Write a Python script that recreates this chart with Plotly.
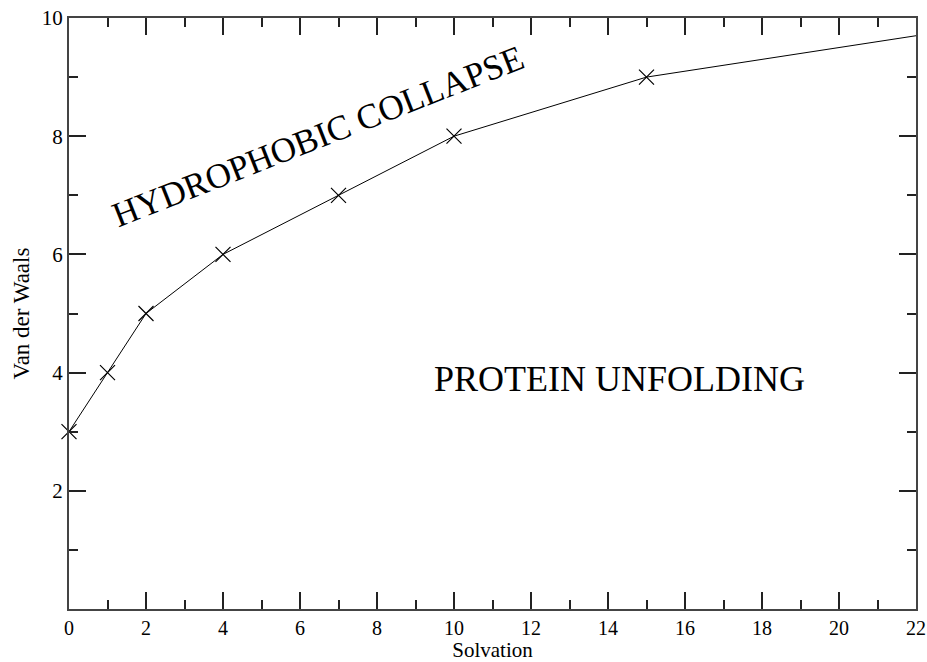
import plotly.graph_objects as go

solvation = [0, 1, 2, 4, 7, 10, 15]
vdw = [3, 4, 5, 6, 7, 8, 9]
line_end_x = [15, 22]
line_end_y = [9, 9.7]

x_ticks = list(range(0, 23, 2))
y_ticks = [2, 4, 6, 8, 10]

font_family = "Liberation Serif, Times New Roman, serif"

fig = go.Figure()
fig.add_trace(go.Scatter(
    x=solvation, y=vdw, mode="lines+markers",
    line=dict(color="black", width=1),
    marker=dict(symbol="x-thin-open", size=15, color="black",
                line=dict(color="black", width=1.2)),
    cliponaxis=False, showlegend=False))
fig.add_trace(go.Scatter(
    x=line_end_x, y=line_end_y, mode="lines",
    line=dict(color="black", width=1), showlegend=False))

axis_common = dict(
    showgrid=False, zeroline=False, showline=True, linecolor="#444",
    linewidth=2, mirror="ticks", ticks="inside", ticklen=17, tickwidth=1.5,
    tickcolor="#222", automargin=False,
    tickfont=dict(family=font_family, size=21, color="black"),
    minor=dict(ticks="inside", ticklen=9, tickwidth=1.5, tickcolor="#222", dtick=1),
)

fig.update_xaxes(
    range=[0, 22], tickvals=x_ticks,
    tickfont=dict(family=font_family, size=20, color="black"),
    title=dict(text="Solvation", font=dict(family=font_family, size=21, color="black"),
               standoff=8),
    **{k: v for k, v in axis_common.items() if k != "tickfont"})
fig.update_yaxes(
    range=[0, 10], tickvals=y_ticks,
    title=dict(text="Van der Waals", font=dict(family=font_family, size=23, color="black"),
               standoff=6),
    **axis_common)

fig.add_annotation(x=6.47, y=7.99, text="HYDROPHOBIC COLLAPSE", showarrow=False,
                   textangle=-21.5, font=dict(family=font_family, size=35, color="black"))
fig.add_annotation(x=14.29, y=3.89, text="PROTEIN UNFOLDING", showarrow=False,
                   font=dict(family=font_family, size=36, color="black"))

fig.update_layout(
    template="none",
    width=927, height=662,
    margin=dict(l=69, r=11, t=18, b=53),
    paper_bgcolor="white", plot_bgcolor="white",
)

fig.write_html("out.html")
